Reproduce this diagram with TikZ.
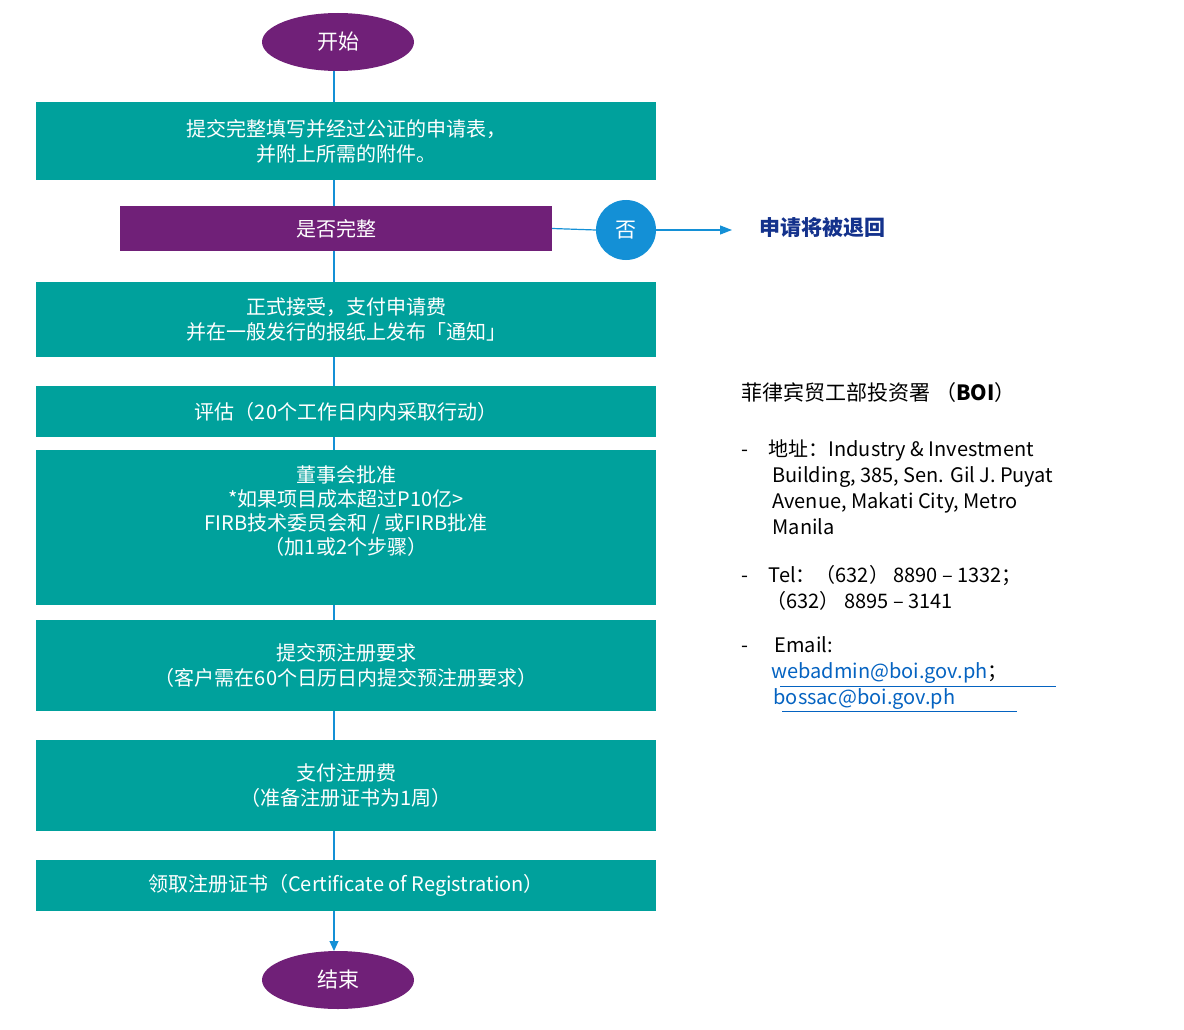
\documentclass[tikz,border=0pt]{standalone}
\usepackage{fontspec}
\setmainfont{Noto Sans CJK SC}
\usetikzlibrary{shapes.geometric, positioning, arrows.meta}
\definecolor{boipurple}{RGB}{112,32,120}
\definecolor{boiteal}{RGB}{0,161,156}
\definecolor{boiblue}{RGB}{20,144,214}
\definecolor{boinavy}{RGB}{20,50,140}
\definecolor{boilink}{RGB}{5,99,193}

\begin{document}
\begin{tikzpicture}[
    x=1pt, y=-1pt,
    terminal/.style={ellipse, fill=boipurple, text=white, minimum width=152pt, minimum height=58pt, font=\fontsize{21}{25}\selectfont},
    stepbox/.style={rectangle, fill=boiteal, text=white, minimum width=620pt, align=center, font=\fontsize{20}{25}\selectfont, inner sep=0pt},
    flow/.style={draw=boiblue, line width=1.2pt},
    info/.style={anchor=west, font=\fontsize{20}{26}\selectfont, align=left}
]
    \useasboundingbox (0,0) rectangle (1184,1030);
    % Main spine
    \node[terminal] (start) at (338,42) {开始};
    \node[terminal] (stop) at (338,980) {结束};
    \coordinate (spinetop) at (334,71);
    \coordinate (spinebot) at (334,951);
    \draw[flow, -{Triangle[width=9pt,length=10pt]}] (spinetop) -- (spinebot);

    % Steps
    \node[stepbox, minimum height=78pt] (submit) at (346,141) {提交完整填写并经过公证的申请表，\\并附上所需的附件。};
    \node[rectangle, fill=boipurple, text=white, minimum width=432pt, minimum height=45pt, font=\fontsize{20}{25}\selectfont] (check) at (336,228.5) {是否完整};
    \node[stepbox, minimum height=75pt] (accept) at (346,319.5) {正式接受，支付申请费\\并在一般发行的报纸上发布「通知」};
    \node[stepbox, minimum height=51pt] (assess) at (346,411.5) {评估（20个工作日内内采取行动）};
    \node[stepbox, minimum height=155pt, anchor=north] (board) at (346,450) {};
    \node[align=center, text=white, font=\fontsize{20}{24}\selectfont, anchor=north] (boardtext) at (346,462) {董事会批准\\*如果项目成本超过P10亿>\\FIRB技术委员会和 / 或FIRB批准\\（加1或2个步骤）};
    \node[stepbox, minimum height=91pt] (prereg) at (346,665.5) {提交预注册要求\\（客户需在60个日历日内提交预注册要求）};
    \node[stepbox, minimum height=91pt] (fee) at (346,785.5) {支付注册费\\（准备注册证书为1周）};
    \node[stepbox, minimum height=51pt] (cert) at (346,885.5) {领取注册证书（Certificate of Registration）};

    % Rejection branch
    \node[circle, fill=boiblue, text=white, minimum size=60pt, font=\fontsize{21}{25}\selectfont] (no) at (626,230) {否};
    \coordinate (noend) at (732,230);
    \node[anchor=west, text=boinavy, font=\bfseries\fontsize{21}{25}\selectfont] (reject) at (756,228) {申请将被退回};
    \draw[flow] (check.east) -- (no.west);
    \draw[flow, -{Triangle[width=9pt,length=12pt]}] (no.east) -- (noend);

    % Contact info
    \node[info, font=\fontsize{21}{26}\selectfont] (boi) at (738,393) {菲律宾贸工部投资署 （\textbf{BOI}）};
    \node[info] (addr) at (738,487) {-\hspace{20pt}地址：Industry \& Investment\\\hspace{31pt}Building, 385, Sen. Gil J. Puyat\\\hspace{31pt}Avenue,  Makati City, Metro\\\hspace{31pt}Manila};
    \node[info] (tel) at (738,588) {-\hspace{20pt}Tel：（632） 8890 – 1332；\\\hspace{25pt}（632） 8895 – 3141};
    \node[info] (mail) at (738,673) {-\hspace{26pt}Email:\\\hspace{30pt}\textcolor{boilink}{webadmin@boi.gov.ph}；\\\hspace{32pt}\textcolor{boilink}{bossac@boi.gov.ph}};
    \draw[boilink, line width=1pt] (780,686) -- (1056,686);
    \draw[boilink, line width=1pt] (782,711) -- (1017,711);
\end{tikzpicture}
\end{document}
